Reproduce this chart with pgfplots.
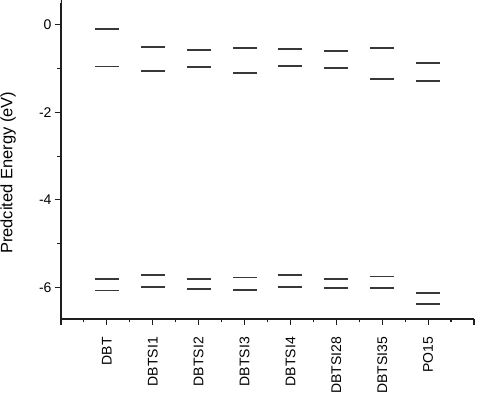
\documentclass[border=0pt]{standalone}
\usepackage{fontspec}
\setmainfont{Liberation Sans}
\usepackage{pgfplots}
\pgfplotsset{compat=1.18}
\definecolor{lvl}{HTML}{383838}
\definecolor{axk}{HTML}{1E1E1E}

% x = molecule index, y = level energy (eV); four levels per molecule
\pgfplotstableread{
x y
1 -0.09
1 -0.95
1 -5.81
1 -6.07
2 -0.51
2 -1.06
2 -5.72
2 -5.99
3 -0.57
3 -0.97
3 -5.81
3 -6.04
4 -0.52
4 -1.10
4 -5.77
4 -6.05
5 -0.55
5 -0.94
5 -5.71
5 -5.99
6 -0.59
6 -0.98
6 -5.80
6 -6.02
7 -0.53
7 -1.23
7 -5.75
7 -6.02
8 -0.87
8 -1.29
8 -6.13
8 -6.37
}\levels

\begin{document}
\begin{tikzpicture}
\begin{axis}[
  name=ax,
  scale only axis, width=413pt, height=316pt,
  xmin=0, xmax=9, ymin=-6.72, ymax=0.5,
  axis lines*=left,
  axis line style={axk, line width=1.1pt},
  every tick/.style={axk, line width=1.1pt},
  tick align=outside,
  major tick length=6pt, minor tick length=3.5pt,
  xtick={0,...,9},
  xticklabels={,DBT,DBTSI1,DBTSI2,DBTSI3,DBTSI4,DBTSI28,DBTSI35,PO15,},
  minor xtick={0.5,1.5,...,8.5},
  ytick={0,-2,-4,-6},
  minor ytick={-1,-3,-5},
  /pgf/number format/assume math mode=true,
  tick label style={font=\fontsize{14}{15}\selectfont, text=black},
  xticklabel style={rotate=90, anchor=east, inner sep=0pt},
  xticklabel shift=12pt,
  ylabel={Predcited Energy (eV)},
  ylabel style={font=\fontsize{16.5}{18}\selectfont, at={(-0.128,0.463)}, anchor=center},
  clip=false,
]
\addplot[only marks, mark=-, mark size=12pt, color=lvl, line width=1.8pt,
  mark options={line width=1.8pt, solid}] table {\levels};
\draw[axk, line width=1.1pt] (rel axis cs:0,0) -- ++(0,-12pt) -- ++(3pt,0);
\end{axis}
\pgfresetboundingbox
\path[use as bounding box] ([shift={(-61pt,-84pt)}]ax.south west) rectangle ([shift={(419pt,319pt)}]ax.south west);
\end{tikzpicture}
\end{document}
